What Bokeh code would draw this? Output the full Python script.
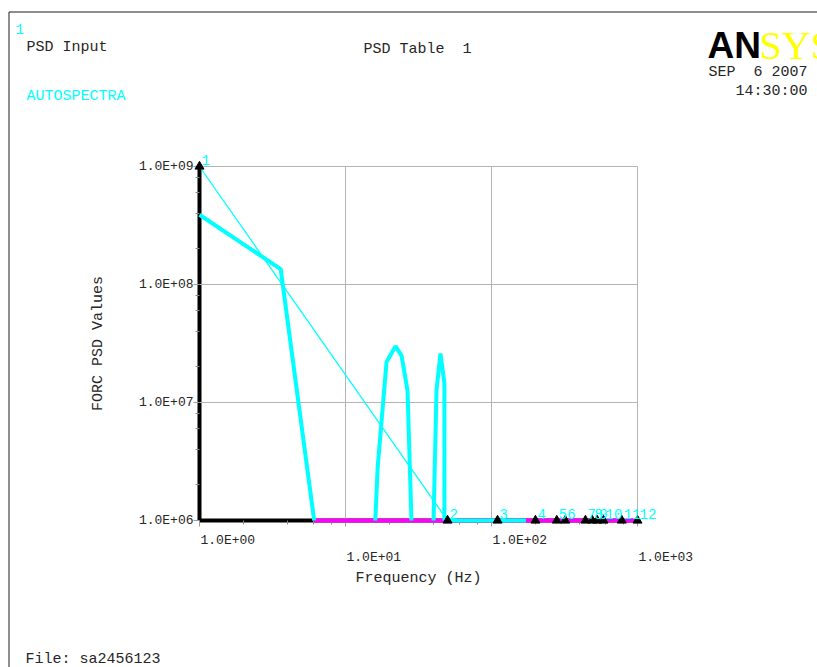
import math
from bokeh.plotting import figure
from bokeh.models import (Range1d, FixedTicker, Label, LabelSet, ColumnDataSource,
                          CustomJSTickFormatter)
from bokeh.core.properties import value
from bokeh.embed import file_html
from bokeh.resources import INLINE

# ---------------- data ----------------
curve_freq = [1.0, 3.6, 6.1]
curve_psd = [3.9e8, 1.35e8, 1.0e6]

peak1_freq = [16.0, 16.6, 19.1, 22.0, 24.2, 26.6, 28.3]
peak1_psd = [1.0e6, 2.8e6, 2.2e7, 3.0e7, 2.5e7, 1.26e7, 1.0e6]

peak2_freq = [40.1, 42.0, 44.7, 47.6, 47.6]
peak2_psd = [1.0e6, 1.26e7, 2.6e7, 1.45e7, 1.0e6]

floor_freq = [6.1, 1000.0]
floor_psd = [1.0e6, 1.0e6]

flat_freq = [50.0, 172.0]
flat_psd = [1.0e6, 1.0e6]

table_freq = [1.0, 50.0, 110.0, 200.0, 280.0, 320.0, 440.0, 490.0, 530.0, 585.0, 780.0, 1000.0]
table_psd = [1.0e9, 1.0e6, 1.0e6, 1.0e6, 1.0e6, 1.0e6, 1.0e6, 1.0e6, 1.0e6, 1.0e6, 1.0e6, 1.0e6]
table_ids = ["1", "2", "3", "4", "5", "6", "7", "8", "9", "10", "11", "12"]

x_ticks = [1.0, 10.0, 100.0, 1000.0]
x_tick_labels = ["1.0E+00", "1.0E+01", "1.0E+02", "1.0E+03"]
x_minor = [2, 4, 6, 8, 20, 40, 60, 80, 200, 400, 600, 800]

y_ticks = [1.0e6, 1.0e7, 1.0e8, 1.0e9]
y_tick_labels = ["1.0E+06", "1.0E+07", "1.0E+08", "1.0E+09"]
y_minor = [2e6, 4e6, 6e6, 8e6, 2e7, 4e7, 6e7, 8e7, 2e8, 4e8, 6e8, 8e8]

# ---------------- layout / styles ----------------
CYAN = "#00ffff"
MAGENTA = "#ff00ff"
MONO = "Liberation Mono"
TXT = "#262626"
GRID = "#b4b4b4"
NBSP = "\u00a0"

W, H = 817, 667
PX_L, PX_R = 199, 637      # page x of the first / last x tick
PY_B, PY_T = 520, 166      # page y of the first / last y tick

lx0, lx1 = math.log10(x_ticks[0]), math.log10(x_ticks[-1])
ly0, ly1 = math.log10(y_ticks[0]), math.log10(y_ticks[-1])
kx = (PX_R - PX_L) / (lx1 - lx0)
ky = (PY_B - PY_T) / (ly1 - ly0)


def px2x(px):
    return 10 ** (lx0 + (px - PX_L) / kx)


def py2y(py):
    return 10 ** (ly0 + (PY_B - py) / ky)


p = figure(width=W, height=H, x_axis_type="log", y_axis_type="log",
           x_range=Range1d(px2x(0), px2x(W)), y_range=Range1d(py2y(H), py2y(0)),
           output_backend="svg", toolbar_location=None,
           min_border_left=0, min_border_right=0, min_border_top=0, min_border_bottom=0)
p.background_fill_color = "white"
p.border_fill_color = "white"
p.outline_line_color = None

# axes, pinned to the corner of the data box
p.xaxis.fixed_location = y_ticks[0]
p.yaxis.fixed_location = x_ticks[0]
p.xaxis.bounds = (x_ticks[0], x_ticks[-1])
p.yaxis.bounds = (y_ticks[0], y_ticks[-1])
for ax in (p.xaxis[0], p.yaxis[0]):
    ax.level = "underlay"
    ax.axis_line_color = "black"
    ax.axis_line_width = 4
    ax.major_tick_in = 0
    ax.major_tick_out = 6
    ax.minor_tick_in = 0
    ax.minor_tick_out = 4
    ax.major_tick_line_color = "#9a9a9a"
    ax.minor_tick_line_color = "#8a8a8a"
    ax.major_label_text_font = MONO
    ax.major_label_text_font_size = "13px"
    ax.major_label_text_color = TXT
    ax.major_label_standoff = 0

p.xaxis.ticker = FixedTicker(ticks=x_ticks, minor_ticks=x_minor)
p.yaxis.ticker = FixedTicker(ticks=y_ticks, minor_ticks=y_minor)
p.xaxis.formatter = CustomJSTickFormatter(code="return ''")
p.yaxis.formatter = CustomJSTickFormatter(
    args=dict(yt=y_ticks, yl=y_tick_labels),
    code="""
    for (let i = 0; i < yt.length; i++) {
        if (Math.abs(Math.log10(yt[i]) - Math.log10(tick)) < 1e-6) return yl[i];
    }
    return '';
    """)

# grid only inside the data box
p.xgrid.ticker = FixedTicker(ticks=x_ticks[1:])
p.ygrid.ticker = FixedTicker(ticks=y_ticks[1:])
p.xgrid.bounds = (x_ticks[0], x_ticks[-1])
p.ygrid.bounds = (y_ticks[0], y_ticks[-1])
p.xgrid.cross_bounds = (y_ticks[0], y_ticks[-1])
p.ygrid.cross_bounds = (x_ticks[0], x_ticks[-1])
p.grid.grid_line_color = GRID
p.grid.grid_line_width = 1

# ---------------- data marks ----------------
p.line(floor_freq, floor_psd, line_color=MAGENTA, line_width=4)
p.line(flat_freq, flat_psd, line_color=CYAN, line_width=4)
p.line(curve_freq, curve_psd, line_color=CYAN, line_width=4)
p.line(peak1_freq, peak1_psd, line_color=CYAN, line_width=4)
p.line(peak2_freq, peak2_psd, line_color=CYAN, line_width=4)
p.line(table_freq[:2], table_psd[:2], line_color=CYAN, line_width=1.3)
p.scatter(table_freq, table_psd, marker="triangle", size=9, fill_color="black", line_color="black")

src = ColumnDataSource(dict(x=table_freq, y=table_psd, t=table_ids))
p.add_layout(LabelSet(x="x", y="y", text="t", source=src, x_offset=2, y_offset=7,
                      text_font=value(MONO), text_font_size=value("14px"),
                      text_color=CYAN, text_baseline="middle", text_align="left"))

# ---------------- texts (page pixels, relative to the data-box corner) ----------------


def page_label(text, px, py, **kw):
    opts = dict(text_font=MONO, text_font_size="15px", text_color=TXT,
                text_baseline="middle", text_align="left")
    opts.update(kw)
    return Label(x=x_ticks[0], y=y_ticks[0], x_offset=px - PX_L, y_offset=PY_B - py, text=text, **opts)


for i, (t, lab) in enumerate(zip(x_ticks, x_tick_labels)):
    dy = 20 if i % 2 == 0 else 37
    p.add_layout(Label(x=t, y=y_ticks[0], x_offset=1, y_offset=-dy, text=lab,
                       text_font=MONO, text_font_size="13px", text_color=TXT,
                       text_baseline="middle", text_align="left"))

p.add_layout(page_label("1", 15, 28, text_color=CYAN, text_font_size="14px"))
p.add_layout(page_label("PSD Input", 26, 47))
p.add_layout(page_label("PSD Table " + NBSP + "1", 363, 49))
p.add_layout(page_label("AUTOSPECTRA", 26, 96, text_color=CYAN))
p.add_layout(page_label("SEP " + NBSP + "6 2007", 807, 72, text_align="right"))
p.add_layout(page_label("14:30:00", 807, 91, text_align="right"))
p.add_layout(page_label("FORC PSD Values", 98, 343, text_align="center", angle=math.pi / 2))
p.add_layout(page_label("Frequency (Hz)", 418, 578, text_align="center"))
p.add_layout(page_label("File: sa2456123", 25, 659))
p.add_layout(page_label("AN", 707, 45, text_font="Liberation Sans", text_font_style="bold",
                        text_font_size="37px", text_color="black", text_baseline="alphabetic"))
p.add_layout(page_label("SYS", 759, 45, text_font="Liberation Serif",
                        text_font_size="40px", text_color="#ffff00", text_baseline="alphabetic"))

# window border (left and top edges)
p.line([px2x(8.5), px2x(8.5), px2x(W + 5)], [py2y(H + 5), py2y(11.5), py2y(11.5)],
       line_color="#1e1e1e", line_width=1)

open("out.html", "w").write(file_html(p, INLINE))
